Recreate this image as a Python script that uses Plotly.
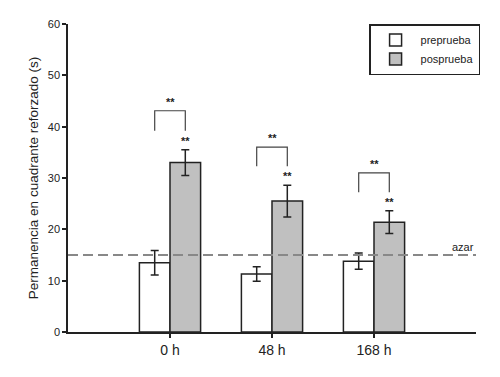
import plotly.graph_objects as go

categories = ["0 h", "48 h", "168 h"]
pre_values = [13.5, 11.3, 13.8]
pre_errors = [2.4, 1.4, 1.6]
post_values = [33.0, 25.5, 21.4]
post_errors = [2.5, 3.1, 2.2]
chance_level = 15
bracket_tops = [43.1, 36.0, 31.0]
bracket_bottoms = [39.2, 32.3, 27.2]
y_ticks = [0, 10, 20, 30, 40, 50, 60]

pos = list(range(len(categories)))
bar_w = 0.3
dark = "#222222"
font = "Liberation Sans, Arial, sans-serif"

fig = go.Figure()
fig.add_trace(go.Bar(
    name="preprueba", x=pos, y=pre_values,
    marker=dict(color="white", line=dict(color=dark, width=1.5)),
    error_y=dict(type="data", array=pre_errors, color=dark, thickness=1.5, width=4),
))
fig.add_trace(go.Bar(
    name="posprueba", x=pos, y=post_values,
    marker=dict(color="#c0c0c0", line=dict(color=dark, width=1.5)),
    error_y=dict(type="data", array=post_errors, color=dark, thickness=1.5, width=4),
))
fig.add_trace(go.Scatter(
    x=[-1, 3], y=[chance_level, chance_level], mode="lines",
    line=dict(color="#888888", width=2, dash="10px,5px"),
    showlegend=False, hoverinfo="skip",
))

for i, p in enumerate(pos):
    xl, xr = p - bar_w / 2, p + bar_w / 2
    fig.add_shape(type="path",
                  path=f"M {xl} {bracket_bottoms[i]} L {xl} {bracket_tops[i]} L {xr} {bracket_tops[i]} L {xr} {bracket_bottoms[i]}",
                  line=dict(color="#444444", width=1.2), xref="x", yref="y")
    fig.add_annotation(x=p, y=bracket_tops[i], text="<b>**</b>", showarrow=False,
                       yanchor="bottom", yshift=1, font=dict(size=11, color=dark, family=font))
    fig.add_annotation(x=xr, y=post_values[i] + post_errors[i], text="<b>**</b>", showarrow=False,
                       yanchor="bottom", yshift=1, font=dict(size=11, color=dark, family=font))

fig.add_annotation(x=1, xref="paper", y=chance_level, yref="y", text="azar", showarrow=False,
                   xanchor="right", yanchor="bottom", yshift=0,
                   font=dict(size=11, color=dark, family=font))

# page body has an 8px margin: figure starts at (8, 8) in the window
fig.update_layout(
    width=492, height=369,
    margin=dict(l=60, r=24, t=16, b=45, autoexpand=False),
    paper_bgcolor="white", plot_bgcolor="white",
    barmode="group", bargap=0.4, bargroupgap=0,
    font=dict(family=font, color=dark),
    legend=dict(x=1.01, y=1.0, xanchor="right", yanchor="top",
                bordercolor=dark, borderwidth=1.5, bgcolor="white",
                font=dict(size=11, family=font, color=dark),
                tracegroupgap=0, itemwidth=40),
    showlegend=True,
)
fig.update_xaxes(range=[-1, 3], tickvals=pos, ticktext=categories, automargin=False,
                 showline=True, linecolor=dark, linewidth=1.5,
                 ticks="outside", ticklen=4, tickcolor=dark, tickwidth=1.5,
                 showgrid=False, zeroline=False,
                 tickfont=dict(size=14, family=font, color=dark))
fig.update_yaxes(range=[0, 60], tickvals=y_ticks, automargin=False,
                 showline=True, linecolor=dark, linewidth=1.5,
                 ticks="outside", ticklen=4, tickcolor=dark, tickwidth=1.5,
                 showgrid=False, zeroline=False,
                 tickfont=dict(size=11, family=font, color=dark),
                 title=dict(text="Permanencia en cuadrante reforzado (s)", standoff=6,
                            font=dict(size=13.5, family=font, color=dark)))

fig.write_html("out.html")
